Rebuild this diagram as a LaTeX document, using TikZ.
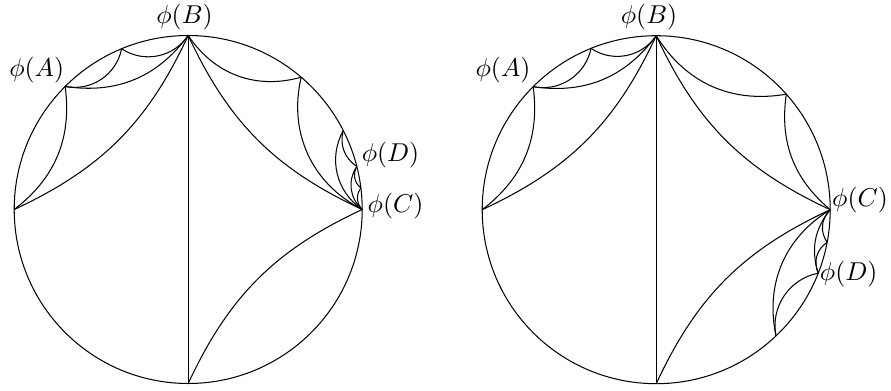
\documentclass[tikz,border=0pt]{standalone}
\tikzset{lab/.style={inner sep=0pt}}
\def\R{67.44pt}
\begin{document}
\begin{tikzpicture}[x=0.3876pt,y=0.3876pt]
\useasboundingbox (0,0) rectangle (891,390);
% ---------- left disc ----------
\begin{scope}[shift={(188.2,180.5)}]
\coordinate (LB) at (90:\R);
\coordinate (LL) at (180:\R);
\coordinate (LBot) at (270:\R);
\coordinate (LC) at (0:\R);
\coordinate (LA) at (135:\R);
\coordinate (LQ) at (112.5:\R);
\coordinate (LR) at (49.5:\R);
\coordinate (LP1) at (27:\R);
\coordinate (LP2) at (14.3:\R);
\coordinate (LP3) at (7.1:\R);
\draw (0,0) circle[radius=\R];
\draw (LB) -- (LBot);
\draw (LB) to[bend left=20] (LL);
\draw (LC) to[bend left=20] (LB);
\draw (LBot) to[bend left=20] (LC);
\draw (LA) to[bend left=30] (LL);
\draw (LB) to[bend left=31] (LA);
\draw (LQ) to[bend left=45] (LA);
\draw (LB) to[bend left=45] (LQ);
\draw (LR) to[bend left=36] (LB);
\draw (LC) to[bend left=38] (LR);
\draw (LC) to[bend left=42] (LP1);
\draw (LP2) to[bend left=35] (LP1);
\draw (LC) to[bend left=41] (LP2);
\draw (LP3) to[bend left=40] (LP2);
\draw (LC) to[bend left=40] (LP3);
\end{scope}
\node[lab] (lB) at (184.5,373) {$\phi(B)$};
\node[lab] (lA) at (36.7,320) {$\phi(A)$};
\node[lab] (lD) at (390.5,235) {$\phi(D)$};
\node[lab] (lC) at (395.5,184) {$\phi(C)$};
% ---------- right disc ----------
\begin{scope}[shift={(656.2,180.3)}]
\coordinate (RB) at (90:\R);
\coordinate (RL) at (180:\R);
\coordinate (RBot) at (270:\R);
\coordinate (RC) at (0:\R);
\coordinate (RA) at (135:\R);
\coordinate (RQ) at (112:\R);
\coordinate (RR) at (41.6:\R);
\coordinate (RS) at (-46.5:\R);
\coordinate (RD) at (-21.4:\R);
\coordinate (RT) at (-10.8:\R);
\draw (0,0) circle[radius=\R];
\draw (RB) -- (RBot);
\draw (RB) to[bend left=20] (RL);
\draw (RC) to[bend left=20] (RB);
\draw (RBot) to[bend left=20] (RC);
\draw (RA) to[bend left=30] (RL);
\draw (RB) to[bend left=31] (RA);
\draw (RQ) to[bend left=45] (RA);
\draw (RB) to[bend left=45] (RQ);
\draw (RR) to[bend left=34] (RB);
\draw (RC) to[bend left=29] (RR);
\draw (RS) to[bend left=35] (RC);
\draw (RS) to[bend left=45] (RD);
\draw (RD) to[bend left=28] (RC);
\draw (RD) to[bend left=40] (RT);
\draw (RT) to[bend left=40] (RC);
\end{scope}
\node[lab] (rB) at (649,373) {$\phi(B)$};
\node[lab] (rA) at (503,320) {$\phi(A)$};
\node[lab] (rC) at (860,190) {$\phi(C)$};
\node[lab] (rD) at (848.7,116) {$\phi(D)$};
\end{tikzpicture}
\end{document}
